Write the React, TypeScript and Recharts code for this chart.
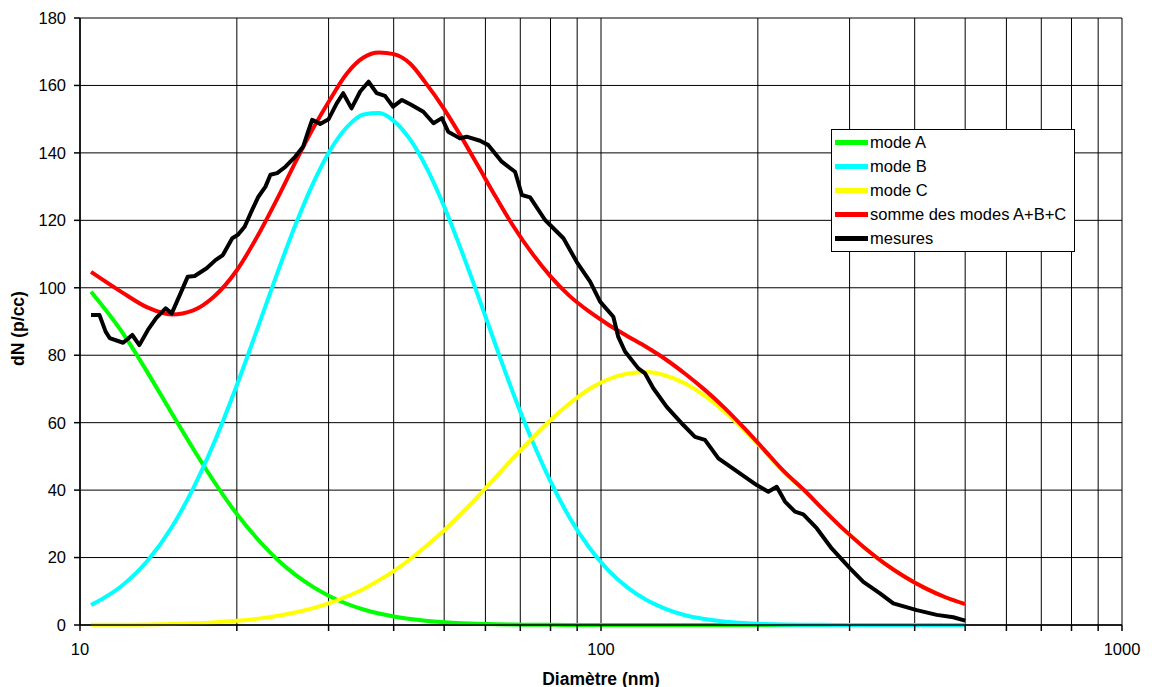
import React from 'react';
import { LineChart, Line, XAxis, YAxis, CartesianGrid, Legend } from 'recharts';

// diamètres (nm) des courbes modales
const diameters = [
  10.5, 12, 13.5, 15, 16.5, 18, 20, 22, 24, 26,
  28, 30, 32.5, 35, 37.5, 40, 43, 46, 50, 54,
  58, 63, 68, 74, 80, 87, 95, 103, 112, 122,
  133, 145, 158, 172, 188, 205, 224, 245, 268, 293,
  320, 350, 382, 418, 457, 500,
];

const modeA = [
  98.8, 87.2, 74.7, 62.8, 52.2, 43.0, 32.9, 25.2, 19.2, 14.7,
  11.3, 8.7, 6.3, 4.6, 3.4, 2.5, 1.75, 1.24, 0.8, 0.52,
  0.34, 0.21, 0.13, 0.07, 0.04, 0.02, 0.01, 0, 0, 0,
  0, 0, 0, 0, 0, 0, 0, 0, 0, 0,
  0, 0, 0, 0, 0, 0,
];

const modeB = [
  5.9, 11.5, 19.2, 29.0, 40.6, 53.3, 71.1, 88.7, 105.0, 119.2,
  130.9, 140.0, 147.6, 151.4, 151.8, 149.5, 144.0, 136.3, 124.1, 110.9,
  97.9, 82.3, 68.3, 54.2, 42.6, 31.9, 22.9, 16.4, 11.3, 7.5,
  4.8, 2.9, 1.8, 1.05, 0.58, 0.32, 0.16, 0.08, 0.04, 0.02,
  0.01, 0, 0, 0, 0, 0,
];

const modeC = [
  0.04, 0.08, 0.17, 0.3, 0.49, 0.75, 1.24, 1.89, 2.73, 3.76,
  4.99, 6.41, 8.45, 10.7, 13.3, 16.0, 19.5, 23.2, 28.1, 33.2,
  38.1, 44.1, 49.7, 55.6, 60.8, 65.7, 70.0, 72.8, 74.5, 75.0,
  74.0, 71.6, 68.0, 63.5, 57.9, 51.9, 45.5, 40.0, 34.0, 28.2,
  23.0, 18.3, 14.4, 11.0, 8.3, 6.2,
];

const sommeABC = [
  104.7, 98.8, 94.1, 92.1, 93.3, 97.1, 105.2, 115.8, 126.9, 137.7,
  147.2, 155.1, 163.5, 168.3, 169.8, 169.3, 166.5, 160.9, 153.0, 144.6,
  136.3, 126.6, 118.1, 109.9, 103.4, 97.6, 92.9, 89.2, 85.8, 82.5,
  78.8, 74.5, 69.8, 64.6, 58.5, 52.2, 45.7, 40.1, 34.0, 28.2,
  23.0, 18.3, 14.4, 11.0, 8.3, 6.2,
];

// granulométrie mesurée
const measureDiameters = [
  10.5, 10.9, 11.2, 11.4, 12.1, 12.6, 13.0, 13.5, 14.0, 14.6,
  15.0, 15.6, 16.1, 16.6, 17.5, 18.2, 18.8, 19.6, 20.1, 20.7,
  21.4, 22.0, 22.7, 23.2, 23.9, 24.8, 25.9, 26.8, 27.4, 27.9,
  28.9, 30.0, 31.1, 32.0, 33.2, 34.5, 35.8, 37.1, 38.5, 39.9,
  41.5, 43.3, 45.6, 47.7, 49.5, 50.9, 53.6, 55.2, 58.6, 60.8,
  64.5, 68.4, 70.5, 73.1, 78.1, 84.7, 89.8, 95.3, 99.6, 105.6,
  107.9, 111.2, 117.9, 121.5, 126.0, 133.7, 143.9, 151.5, 158.3, 168.0,
  180.7, 199.0, 209.5, 217.4, 225.5, 235.7, 244.5, 259.4, 277.2, 300.6,
  318.8, 343.1, 363.9, 403.6, 441.0, 474.5, 500,
];

const measureValues = [
  91.9, 91.9, 87.0, 85.1, 83.7, 86.0, 83.0, 87.5, 91.0, 93.9,
  92.4, 98.4, 103.3, 103.5, 105.8, 108.2, 109.7, 114.7, 115.7, 118.1,
  123.1, 127.0, 130.0, 133.5, 134.0, 135.9, 138.9, 141.8, 146.3, 149.8,
  148.6, 150.0, 154.7, 157.7, 153.2, 158.2, 161.1, 157.7, 156.9, 153.7,
  155.7, 154.2, 152.2, 148.8, 150.3, 146.3, 144.3, 144.8, 143.6, 142.3,
  137.4, 134.4, 127.5, 126.8, 120.1, 114.7, 107.7, 101.8, 95.9, 91.4,
  85.5, 81.1, 76.1, 74.6, 70.2, 64.7, 59.3, 55.8, 54.9, 49.4,
  46.0, 41.5, 39.5, 41.0, 36.6, 33.6, 32.8, 28.7, 22.7, 16.8,
  12.8, 9.4, 6.4, 4.4, 3.0, 2.3, 1.3,
];

const xTicks = [
  10, 20, 30, 40, 50, 60, 70, 80, 90,
  100, 200, 300, 400, 500, 600, 700, 800, 900, 1000,
];
const xTickLabels = ['10', '100', '1000'];
const yTicks = [0, 20, 40, 60, 80, 100, 120, 140, 160, 180];

const FONT = '"Liberation Sans", Arial, sans-serif';

const series = [
  { key: 'modeA', name: 'mode A', color: '#00FF00' },
  { key: 'modeB', name: 'mode B', color: '#00FFFF' },
  { key: 'modeC', name: 'mode C', color: '#FFFF00' },
  { key: 'somme', name: 'somme des modes A+B+C', color: '#FF0000' },
  { key: 'mesures', name: 'mesures', color: '#000000' },
];

const modeData = diameters.map((d, i) => ({
  d,
  modeA: modeA[i],
  modeB: modeB[i],
  modeC: modeC[i],
  somme: sommeABC[i],
}));

const measureData = measureDiameters.map((d, i) => ({ d, mesures: measureValues[i] }));

const renderLegend = () => (
  <div
    style={{
      width: 244,
      height: 123,
      boxSizing: 'border-box',
      border: '1px solid #000',
      background: '#fff',
      padding: '0 0 0 3px',
      fontFamily: FONT,
      fontSize: 16.5,
      color: '#000',
    }}
  >
    {series.map((s) => (
      <div key={s.key} style={{ display: 'flex', alignItems: 'center', height: 24 }}>
        <span style={{ display: 'inline-block', width: 33, height: 5, background: s.color, marginRight: 2 }} />
        <span>{s.name}</span>
      </div>
    ))}
  </div>
);

const XTitle = (props: any) => {
  const vb = props.viewBox || { x: 72, y: 617, width: 1042, height: 62 };
  return (
    <text
      x={vb.x + vb.width / 2}
      y={vb.y + 59.5}
      textAnchor="middle"
      fontFamily={FONT}
      fontWeight="bold"
      fontSize={17.5}
      fill="#000"
    >
      Diamètre (nm)
    </text>
  );
};

const YTitle = (props: any) => {
  const vb = props.viewBox || { x: 0, y: 10, width: 72, height: 607 };
  const cx = vb.x + 16;
  const cy = vb.y + vb.height / 2 + 7;
  return (
    <text
      x={cx}
      y={cy}
      transform={`rotate(-90, ${cx}, ${cy})`}
      textAnchor="middle"
      fontFamily={FONT}
      fontWeight="bold"
      fontSize={17.5}
      fill="#000"
    >
      dN (p/cc)
    </text>
  );
};

export default function App() {
  return (
    <div style={{ position: 'relative', width: 1144, height: 679, background: '#fff' }}>
      <LineChart
        width={1144}
        height={679}
        data={modeData}
        margin={{ top: 10, right: 30, left: 0, bottom: 0 }}
        style={{ fontFamily: FONT }}
      >
        <CartesianGrid stroke="#000" strokeWidth={1} />
        <XAxis
          dataKey="d"
          type="number"
          scale="log"
          domain={[10, 1000]}
          allowDataOverflow
          ticks={xTicks}
          interval={0}
          tickFormatter={(v: number) => (xTickLabels.includes(String(v)) ? String(v) : '')}
          height={62}
          tickSize={6}
          tickMargin={12}
          stroke="#000"
          strokeWidth={1.5}
          tick={{ fill: '#000', fontSize: 16.5, fontFamily: FONT }}
          label={<XTitle />}
        />
        <YAxis
          type="number"
          domain={[0, 180]}
          ticks={yTicks}
          interval={0}
          width={72}
          tickSize={6}
          tickMargin={8}
          stroke="#000"
          strokeWidth={1.5}
          tick={{ fill: '#000', fontSize: 16.5, fontFamily: FONT }}
          label={<YTitle />}
        />
        <Legend
          layout="vertical"
          align="center"
          verticalAlign="middle"
          wrapperStyle={{ left: 823, top: 121, width: 244 }}
          content={renderLegend}
        />
        {series.slice(0, 4).map((s) => (
          <Line
            key={s.key}
            dataKey={s.key}
            name={s.name}
            type="monotone"
            stroke={s.color}
            strokeWidth={4}
            dot={false}
            activeDot={false}
            isAnimationActive={false}
          />
        ))}
        <Line
          data={measureData}
          dataKey="mesures"
          name="mesures"
          type="linear"
          stroke="#000"
          strokeWidth={4}
          strokeLinejoin="round"
          dot={false}
          activeDot={false}
          isAnimationActive={false}
        />
      </LineChart>
    </div>
  );
}
